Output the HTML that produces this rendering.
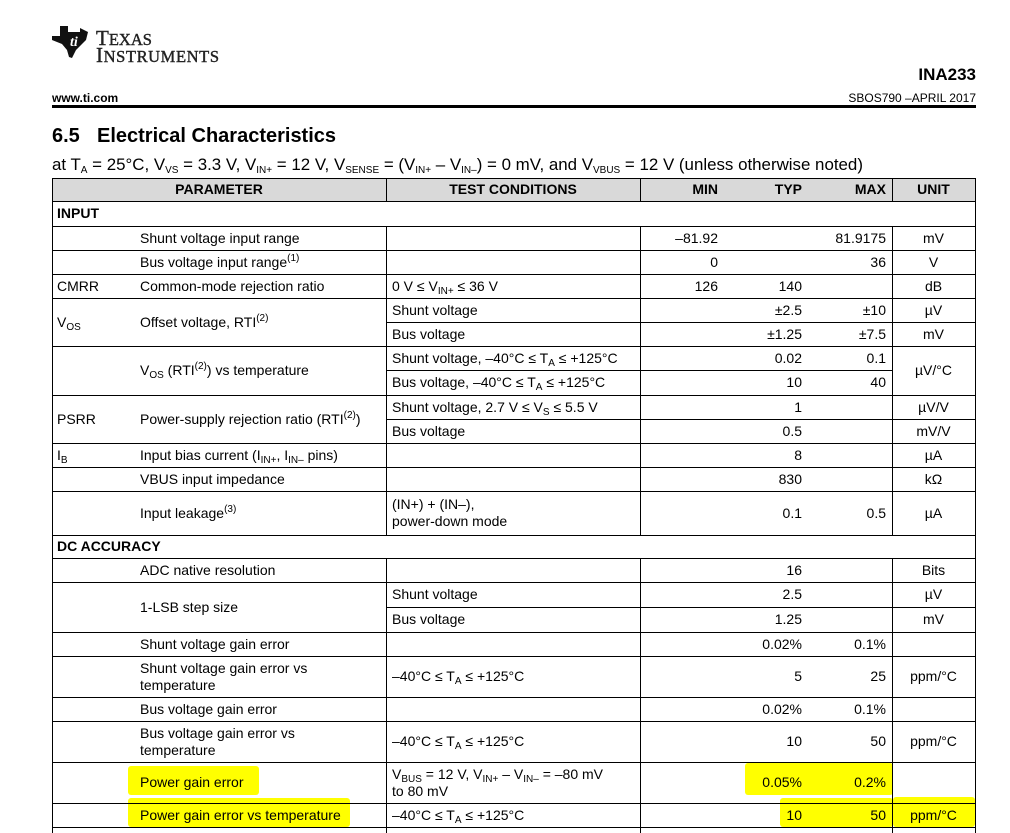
<!DOCTYPE html>
<html><head><meta charset="utf-8"><style>
body{margin:0;width:1010px;height:833px;background:#fff;overflow:hidden;position:relative;font-family:"Liberation Sans",Arial,sans-serif;color:#000}
.a{position:absolute}
.t{position:absolute;display:flex;align-items:center;white-space:nowrap;font-size:14px;line-height:17px}
.r{justify-content:flex-end}
.c{justify-content:center;text-align:center}
.b{font-weight:bold}
.h{position:absolute;height:1px;background:#000}
.v{position:absolute;width:1px;background:#000}
sub{font-size:10px;vertical-align:-3px;line-height:0}
sup{font-size:10px;vertical-align:6px;line-height:0}
.y{position:absolute;background:#ffff00;border-radius:3px}
</style></head><body>
<svg class="a" style="left:50px;top:24px" width="42" height="36" viewBox="0 0 42 36">
<path d="M10 2 L18 2 L18 8 L30 8 L30 4 L38 8 L36 16 L32 20 L26 26 L22 34 L19 33 L17 26 L12 20 L2 16 L2 12 L10 12 Z" fill="#111"/>
<text x="20" y="22" font-family="Liberation Serif" font-style="italic" font-weight="bold" font-size="14" fill="#fff">ti</text>
</svg>
<div class="a" style="left:96px;top:28px;font-family:'Liberation Serif',serif;font-size:21px;line-height:21px;color:#222;-webkit-text-stroke:0.4px #222">T<span style="font-size:16.5px">EXAS</span></div>
<div class="a" style="left:96px;top:45px;font-family:'Liberation Serif',serif;font-size:21px;line-height:21px;color:#222;-webkit-text-stroke:0.4px #222;letter-spacing:0.6px">I<span style="font-size:16.5px">NSTRUMENTS</span></div>
<div class="a b" style="right:34px;top:65px;font-size:17px">INA233</div>
<div class="a b" style="left:52px;top:91px;font-size:12px">www.ti.com</div>
<div class="a" style="right:34px;top:91px;font-size:12px">SBOS790 –APRIL 2017</div>
<div class="a" style="left:52px;top:105px;width:924px;height:3px;background:#000"></div>
<div class="a b" style="left:52px;top:125px;font-size:20px">6.5</div>
<div class="a b" style="left:97px;top:125px;font-size:20px">Electrical Characteristics</div>
<div class="a" style="left:52px;top:155px;font-size:16.9px;white-space:nowrap">at T<sub>A</sub> = 25°C, V<sub>VS</sub> = 3.3 V, V<sub>IN+</sub> = 12 V, V<sub>SENSE</sub> = (V<sub>IN+</sub> – V<sub>IN–</sub>) = 0 mV, and V<sub>VBUS</sub> = 12 V (unless otherwise noted)</div>

<div class="y" style="left:128px;top:766px;width:131px;height:29px"></div>
<div class="y" style="left:745px;top:763px;width:148px;height:32px"></div>
<div class="y" style="left:128px;top:798px;width:222px;height:29px"></div>
<div class="y" style="left:780px;top:798px;width:113px;height:29px"></div>
<div class="y" style="left:893px;top:797px;width:82px;height:30px"></div>

<div class="a" style="left:52px;top:178px;width:923px;height:23px;background:#d9d9d9"></div>

<div class="h" style="left:52px;width:924px;top:178px"></div>
<div class="h" style="left:52px;width:924px;top:201px"></div>
<div class="h" style="left:52px;width:924px;top:226px"></div>
<div class="h" style="left:52px;width:924px;top:250px"></div>
<div class="h" style="left:52px;width:924px;top:274px"></div>
<div class="h" style="left:52px;width:924px;top:298px"></div>
<div class="h" style="left:386px;width:590px;top:322px"></div>
<div class="h" style="left:52px;width:924px;top:346px"></div>
<div class="h" style="left:386px;width:506px;top:370px"></div>
<div class="h" style="left:52px;width:924px;top:395px"></div>
<div class="h" style="left:386px;width:590px;top:419px"></div>
<div class="h" style="left:52px;width:924px;top:443px"></div>
<div class="h" style="left:52px;width:924px;top:467px"></div>
<div class="h" style="left:52px;width:924px;top:491px"></div>
<div class="h" style="left:52px;width:924px;top:535px"></div>
<div class="h" style="left:52px;width:924px;top:558px"></div>
<div class="h" style="left:52px;width:924px;top:582px"></div>
<div class="h" style="left:386px;width:590px;top:607px"></div>
<div class="h" style="left:52px;width:924px;top:632px"></div>
<div class="h" style="left:52px;width:924px;top:656px"></div>
<div class="h" style="left:52px;width:924px;top:697px"></div>
<div class="h" style="left:52px;width:924px;top:721px"></div>
<div class="h" style="left:52px;width:924px;top:762px"></div>
<div class="h" style="left:52px;width:924px;top:803px"></div>
<div class="h" style="left:52px;width:924px;top:827px"></div>

<div class="v" style="left:52px;top:178px;height:655px"></div>
<div class="v" style="left:975px;top:178px;height:655px"></div>
<div class="v" style="left:386px;top:178px;height:23px"></div>
<div class="v" style="left:640px;top:178px;height:23px"></div>
<div class="v" style="left:892px;top:178px;height:23px"></div>
<div class="v" style="left:386px;top:226px;height:309px"></div>
<div class="v" style="left:640px;top:226px;height:309px"></div>
<div class="v" style="left:892px;top:226px;height:309px"></div>
<div class="v" style="left:386px;top:558px;height:275px"></div>
<div class="v" style="left:640px;top:558px;height:275px"></div>
<div class="v" style="left:892px;top:558px;height:275px"></div>

<div class="t b c" style="left:52px;width:334px;top:178px;height:23px">PARAMETER</div>
<div class="t b c" style="left:386px;width:254px;top:178px;height:23px">TEST CONDITIONS</div>
<div class="t b r" style="left:640px;width:78px;top:178px;height:23px">MIN</div>
<div class="t b r" style="left:718px;width:84px;top:178px;height:23px">TYP</div>
<div class="t b r" style="left:802px;width:84px;top:178px;height:23px">MAX</div>
<div class="t b c" style="left:892px;width:83px;top:178px;height:23px">UNIT</div>

<div class="t b" style="left:57px;top:201px;height:25px">INPUT</div>

<div class="t" style="left:140px;top:226px;height:24px">Shunt voltage input range</div>
<div class="t r" style="left:640px;width:78px;top:226px;height:24px">–81.92</div>
<div class="t r" style="left:802px;width:84px;top:226px;height:24px">81.9175</div>
<div class="t c" style="left:892px;width:83px;top:226px;height:24px">mV</div>

<div class="t" style="left:140px;top:250px;height:24px"><span>Bus voltage input range<sup>(1)</sup></span></div>
<div class="t r" style="left:640px;width:78px;top:250px;height:24px">0</div>
<div class="t r" style="left:802px;width:84px;top:250px;height:24px">36</div>
<div class="t c" style="left:892px;width:83px;top:250px;height:24px">V</div>

<div class="t" style="left:57px;top:274px;height:24px">CMRR</div>
<div class="t" style="left:140px;top:274px;height:24px">Common-mode rejection ratio</div>
<div class="t" style="left:392px;top:274px;height:24px"><span>0 V ≤ V<sub>IN+</sub> ≤ 36 V</span></div>
<div class="t r" style="left:640px;width:78px;top:274px;height:24px">126</div>
<div class="t r" style="left:718px;width:84px;top:274px;height:24px">140</div>
<div class="t c" style="left:892px;width:83px;top:274px;height:24px">dB</div>

<div class="t" style="left:57px;top:298px;height:48px"><span>V<sub>OS</sub></span></div>
<div class="t" style="left:140px;top:298px;height:48px"><span>Offset voltage, RTI<sup>(2)</sup></span></div>
<div class="t" style="left:392px;top:298px;height:24px">Shunt voltage</div>
<div class="t r" style="left:718px;width:84px;top:298px;height:24px">±2.5</div>
<div class="t r" style="left:802px;width:84px;top:298px;height:24px">±10</div>
<div class="t c" style="left:892px;width:83px;top:298px;height:24px">µV</div>
<div class="t" style="left:392px;top:322px;height:24px">Bus voltage</div>
<div class="t r" style="left:718px;width:84px;top:322px;height:24px">±1.25</div>
<div class="t r" style="left:802px;width:84px;top:322px;height:24px">±7.5</div>
<div class="t c" style="left:892px;width:83px;top:322px;height:24px">mV</div>

<div class="t" style="left:140px;top:346px;height:49px"><span>V<sub>OS</sub> (RTI<sup>(2)</sup>) vs temperature</span></div>
<div class="t" style="left:392px;top:346px;height:24px"><span>Shunt voltage, –40°C ≤ T<sub>A</sub> ≤ +125°C</span></div>
<div class="t r" style="left:718px;width:84px;top:346px;height:24px">0.02</div>
<div class="t r" style="left:802px;width:84px;top:346px;height:24px">0.1</div>
<div class="t" style="left:392px;top:370px;height:25px"><span>Bus voltage, –40°C ≤ T<sub>A</sub> ≤ +125°C</span></div>
<div class="t r" style="left:718px;width:84px;top:370px;height:25px">10</div>
<div class="t r" style="left:802px;width:84px;top:370px;height:25px">40</div>
<div class="t c" style="left:892px;width:83px;top:346px;height:49px">µV/°C</div>

<div class="t" style="left:57px;top:395px;height:48px">PSRR</div>
<div class="t" style="left:140px;top:395px;height:48px"><span>Power-supply rejection ratio (RTI<sup>(2)</sup>)</span></div>
<div class="t" style="left:392px;top:395px;height:24px"><span>Shunt voltage, 2.7 V ≤ V<sub>S</sub> ≤ 5.5 V</span></div>
<div class="t r" style="left:718px;width:84px;top:395px;height:24px">1</div>
<div class="t c" style="left:892px;width:83px;top:395px;height:24px">µV/V</div>
<div class="t" style="left:392px;top:419px;height:24px">Bus voltage</div>
<div class="t r" style="left:718px;width:84px;top:419px;height:24px">0.5</div>
<div class="t c" style="left:892px;width:83px;top:419px;height:24px">mV/V</div>

<div class="t" style="left:57px;top:443px;height:24px"><span>I<sub>B</sub></span></div>
<div class="t" style="left:140px;top:443px;height:24px"><span>Input bias current (I<sub>IN+</sub>, I<sub>IN–</sub> pins)</span></div>
<div class="t r" style="left:718px;width:84px;top:443px;height:24px">8</div>
<div class="t c" style="left:892px;width:83px;top:443px;height:24px">µA</div>

<div class="t" style="left:140px;top:467px;height:24px">VBUS input impedance</div>
<div class="t r" style="left:718px;width:84px;top:467px;height:24px">830</div>
<div class="t c" style="left:892px;width:83px;top:467px;height:24px">kΩ</div>

<div class="t" style="left:140px;top:491px;height:44px"><span>Input leakage<sup>(3)</sup></span></div>
<div class="t" style="left:392px;top:491px;height:44px"><span>(IN+) + (IN–),<br>power-down mode</span></div>
<div class="t r" style="left:718px;width:84px;top:491px;height:44px">0.1</div>
<div class="t r" style="left:802px;width:84px;top:491px;height:44px">0.5</div>
<div class="t c" style="left:892px;width:83px;top:491px;height:44px">µA</div>

<div class="t b" style="left:57px;top:535px;height:23px">DC ACCURACY</div>

<div class="t" style="left:140px;top:558px;height:24px">ADC native resolution</div>
<div class="t r" style="left:718px;width:84px;top:558px;height:24px">16</div>
<div class="t c" style="left:892px;width:83px;top:558px;height:24px">Bits</div>

<div class="t" style="left:140px;top:582px;height:50px">1-LSB step size</div>
<div class="t" style="left:392px;top:582px;height:25px">Shunt voltage</div>
<div class="t r" style="left:718px;width:84px;top:582px;height:25px">2.5</div>
<div class="t c" style="left:892px;width:83px;top:582px;height:25px">µV</div>
<div class="t" style="left:392px;top:607px;height:25px">Bus voltage</div>
<div class="t r" style="left:718px;width:84px;top:607px;height:25px">1.25</div>
<div class="t c" style="left:892px;width:83px;top:607px;height:25px">mV</div>

<div class="t" style="left:140px;top:632px;height:24px">Shunt voltage gain error</div>
<div class="t r" style="left:718px;width:84px;top:632px;height:24px">0.02%</div>
<div class="t r" style="left:802px;width:84px;top:632px;height:24px">0.1%</div>

<div class="t" style="left:140px;top:656px;height:41px"><span>Shunt voltage gain error vs<br>temperature</span></div>
<div class="t" style="left:392px;top:656px;height:41px"><span>–40°C ≤ T<sub>A</sub> ≤ +125°C</span></div>
<div class="t r" style="left:718px;width:84px;top:656px;height:41px">5</div>
<div class="t r" style="left:802px;width:84px;top:656px;height:41px">25</div>
<div class="t c" style="left:892px;width:83px;top:656px;height:41px">ppm/°C</div>

<div class="t" style="left:140px;top:697px;height:24px">Bus voltage gain error</div>
<div class="t r" style="left:718px;width:84px;top:697px;height:24px">0.02%</div>
<div class="t r" style="left:802px;width:84px;top:697px;height:24px">0.1%</div>

<div class="t" style="left:140px;top:721px;height:41px"><span>Bus voltage gain error vs<br>temperature</span></div>
<div class="t" style="left:392px;top:721px;height:41px"><span>–40°C ≤ T<sub>A</sub> ≤ +125°C</span></div>
<div class="t r" style="left:718px;width:84px;top:721px;height:41px">10</div>
<div class="t r" style="left:802px;width:84px;top:721px;height:41px">50</div>
<div class="t c" style="left:892px;width:83px;top:721px;height:41px">ppm/°C</div>

<div class="t" style="left:140px;top:762px;height:41px">Power gain error</div>
<div class="t" style="left:392px;top:762px;height:41px"><span>V<sub>BUS</sub> = 12 V, V<sub>IN+</sub> – V<sub>IN–</sub> = –80 mV<br>to 80 mV</span></div>
<div class="t r" style="left:718px;width:84px;top:762px;height:41px">0.05%</div>
<div class="t r" style="left:802px;width:84px;top:762px;height:41px">0.2%</div>

<div class="t" style="left:140px;top:803px;height:24px">Power gain error vs temperature</div>
<div class="t" style="left:392px;top:803px;height:24px"><span>–40°C ≤ T<sub>A</sub> ≤ +125°C</span></div>
<div class="t r" style="left:718px;width:84px;top:803px;height:24px">10</div>
<div class="t r" style="left:802px;width:84px;top:803px;height:24px">50</div>
<div class="t c" style="left:892px;width:83px;top:803px;height:24px">ppm/°C</div>
</body></html>
